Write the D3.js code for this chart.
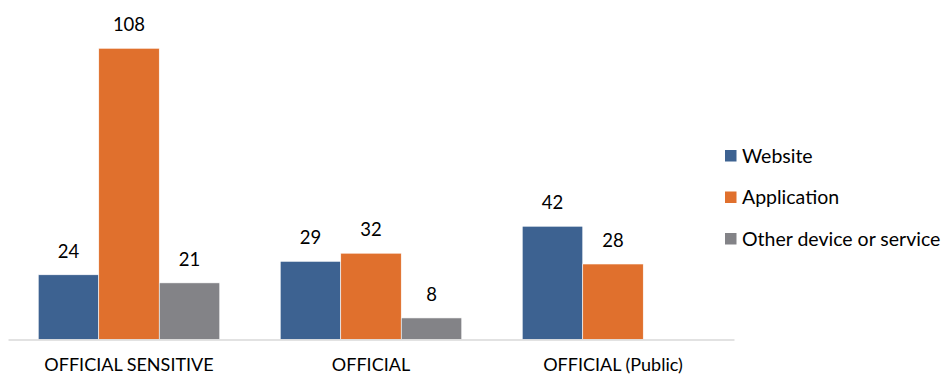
<!DOCTYPE html>
<html>
<head>
<meta charset="utf-8">
<script src="https://cdn.jsdelivr.net/npm/d3@7/dist/d3.min.js"></script>
<style>
  html, body { margin: 0; padding: 0; background: #fff; }
  svg { display: block; font-family: Lato, "Open Sans", sans-serif; }
</style>
</head>
<body>
<svg id="chart" width="942" height="376"></svg>
<script>
// Classification levels shown along the x axis
const categories = ["OFFICIAL SENSITIVE", "OFFICIAL", "OFFICIAL (Public)"];
// Series names (legend order)
const seriesNames = ["Website", "Application", "Other device or service"];
// Counts per series, one value per classification level (null = no bar)
const website = [24, 29, 42];
const application = [108, 32, 28];
const otherDevice = [21, 8, null];
const seriesColors = ["#3D6291", "#E0702D", "#838387"];

const seriesValues = [website, application, otherDevice];

const svg = d3.select("#chart");

const x0 = d3.scaleBand()
  .domain(categories)
  .range([8, 734])
  .paddingInner(0.25)
  .paddingOuter(0.125);

const x1 = d3.scaleBand()
  .domain(seriesNames)
  .range([0, x0.bandwidth()]);

const y = d3.scaleLinear()
  .domain([0, 120])
  .range([339.5, 15.9]);

// Bars
const groups = svg.append("g")
  .selectAll("g")
  .data(categories)
  .join("g")
  .attr("transform", d => `translate(${x0(d)},0)`);

groups.selectAll("rect")
  .data((c, i) => seriesNames.map((s, k) => ({ s, k, v: seriesValues[k][i] })).filter(d => d.v != null))
  .join("rect")
  .attr("x", d => x1(d.s))
  .attr("width", x1.bandwidth())
  .attr("y", d => y(d.v))
  .attr("height", d => y(0) - y(d.v))
  .attr("fill", d => seriesColors[d.k])
  .attr("stroke", "#ffffff")
  .attr("stroke-width", 0.6);

// Value labels
groups.selectAll("text.value")
  .data((c, i) => seriesNames.map((s, k) => ({ s, k, v: seriesValues[k][i] })).filter(d => d.v != null))
  .join("text")
  .attr("class", "value")
  .attr("x", d => x1(d.s) + x1.bandwidth() / 2)
  .attr("y", d => y(d.v) - 17)
  .attr("text-anchor", "middle")
  .attr("font-size", 18.5)
  .attr("fill", "#000")
  .text(d => d.v);

// Baseline axis
const xAxis = d3.axisBottom(x0).tickSize(0).tickPadding(19);
const axisG = svg.append("g")
  .attr("transform", `translate(0,${y(0)})`)
  .call(xAxis);
axisG.select(".domain").attr("stroke", "#d9d9d9").attr("stroke-width", 1.3);
axisG.selectAll("text")
  .attr("font-size", 18)
  .attr("font-family", "Lato, 'Open Sans', sans-serif")
  .attr("fill", "#000");

// Legend
const legend = svg.append("g")
  .selectAll("g")
  .data(seriesNames)
  .join("g")
  .attr("transform", (d, i) => `translate(725,${150 + i * 41.5})`);

legend.append("rect")
  .attr("width", 11.5)
  .attr("height", 11.5)
  .attr("fill", (d, i) => seriesColors[i]);

legend.append("text")
  .attr("x", 17)
  .attr("y", 6)
  .attr("dy", "0.35em")
  .attr("font-size", 19.5)
  .attr("fill", "#000")
  .text(d => d);
</script>
</body>
</html>
